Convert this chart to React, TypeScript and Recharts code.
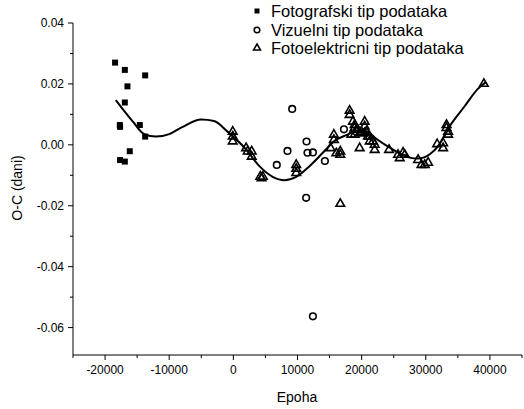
import { ComposedChart, XAxis, YAxis, Scatter, Line, Legend } from "recharts";

// Fotografski tip podataka (squares)
const fotoEpoha = [-18440, -16920, -13750, -16510, -16920, -17700, -17660, -14580, -13750, -16150, -17660, -16920];
const fotoOC = [0.027, 0.0246, 0.0228, 0.0192, 0.0139, 0.0065, 0.0059, 0.0065, 0.0027, -0.0021, -0.005, -0.0055];

// Vizuelni tip podataka (circles)
const vizEpoha = [9170, 11410, 8440, 11560, 12400, 6770, 14270, 17240, 11350, 12400];
const vizOC = [0.0118, 0.0011, -0.002, -0.0026, -0.0025, -0.0066, -0.0053, 0.0051, -0.0174, -0.0563];

// Fotoelektricni tip podataka (triangles)
const fotoelEpoha = [
  -100, -100, -100, 1980, 2240, 2860, 2860, 4200, 4400, 4600,
  9800, 9800, 9800, 15670, 15670, 15160, 16050, 16670, 16670, 16670,
  18125, 18125, 18640, 18910, 19170, 18390, 18910, 18910, 19420, 19690,
  20470, 20470, 19950, 20730, 20980, 20470, 19690, 21250, 21250, 21770,
  22030, 22030, 24270, 25670, 25940, 26460, 26720, 28800, 29330, 29840,
  30360, 31770, 32700, 32700, 33230, 33230, 33480, 33480, 39060,
];
const fotoelOC = [
  0.0045, 0.0029, 0.0013, -0.0009, -0.002, -0.002, -0.0037, -0.0103, -0.0108, -0.0103,
  -0.0064, -0.0077, -0.0091, 0.0035, 0.0018, -0.0009, -0.0026, -0.002, -0.0031, -0.0192,
  0.0114, 0.01, 0.0078, 0.0067, 0.0051, 0.0035, 0.0035, 0.0057, 0.0051, 0.004,
  0.0078, 0.0062, 0.0045, 0.0045, 0.0029, 0.004, -0.0009, 0.0029, 0.0013, 0.0013,
  0.0002, -0.0015, -0.0015, -0.0031, -0.0042, -0.0024, -0.0031, -0.0048, -0.0064, -0.0064,
  -0.0057, 0.0004, 0.0007, -0.0009, 0.0067, 0.0057, 0.0045, 0.0035, 0.0202,
];

// fitted curve
const fitEpoha = [
  -18330, -15730, -13900, -12080, -10000, -8000, -5000, -3000, -1000, 1980,
  4060, 6140, 7970, 9800, 11875, 13950, 15780, 17600, 19500, 21250,
  22030, 24375, 27500, 28800, 30625, 31920, 33750, 36000, 38080, 39375,
];
const fitOC = [
  0.0147, 0.0078, 0.0035, 0.0027, 0.0035, 0.0058, 0.0083, 0.0078, 0.0045, -0.0015,
  -0.007, -0.0105, -0.0116, -0.0105, -0.007, -0.0026, 0.0013, 0.0032, 0.0047, 0.0038,
  0.0024, -0.0009, -0.0042, -0.0045, -0.0031, -0.0004, 0.0062, 0.0125, 0.0183, 0.0206,
];

const xTicks = [-25000, -20000, -15000, -10000, -5000, 0, 5000, 10000, 15000, 20000, 25000, 30000, 35000, 40000, 45000];
const yTicks = [0.04, 0.03, 0.02, 0.01, 0, -0.01, -0.02, -0.03, -0.04, -0.05, -0.06];

const legendItems = ["Fotografski tip podataka", "Vizuelni tip podataka", "Fotoelektricni tip podataka"];

const pairs = (xs: number[], ys: number[]) => xs.map((x, i) => ({ x, y: ys[i] }));
const fotoData = pairs(fotoEpoha, fotoOC);
const vizData = pairs(vizEpoha, vizOC);
const fotoelData = pairs(fotoelEpoha, fotoelOC);
const fitData = pairs(fitEpoha, fitOC);

const Square = ({ cx, cy }: any) => <rect x={cx - 3} y={cy - 3} width={6} height={6} fill="#000" />;
const Ring = ({ cx, cy }: any) => <circle cx={cx} cy={cy} r={3.3} fill="none" stroke="#000" strokeWidth={1.6} />;
const Tri = ({ cx, cy }: any) => (
  <path d={`M${cx},${cy - 4.5} L${cx + 4.3},${cy + 3} L${cx - 4.3},${cy + 3} Z`} fill="none" stroke="#000" strokeWidth={1.6} />
);

const XTick = ({ x, y, payload }: any) => {
  const v = payload.value;
  const major = v % 10000 === 0;
  return (
    <g>
      <line x1={x} y1={y} x2={x} y2={y + (major ? 5 : 3)} stroke="#000" />
      {major && (
        <text x={x} y={y + 19} textAnchor="middle" fontSize={12} fill="#000">
          {v}
        </text>
      )}
    </g>
  );
};

const YTick = ({ x, y, payload }: any) => {
  const v = payload.value;
  const major = Math.round(v * 100) % 2 === 0;
  return (
    <g>
      <line x1={x} y1={y} x2={x - (major ? 5 : 3)} y2={y} stroke="#000" />
      {major && (
        <text x={x - 9} y={y + 4} textAnchor="end" fontSize={12} fill="#000">
          {v.toFixed(2)}
        </text>
      )}
    </g>
  );
};

const renderLegend = () => (
  <div style={{ fontSize: 16.5, lineHeight: "18.5px", color: "#000" }}>
    {legendItems.map((name, i) => (
      <div key={name} style={{ display: "flex", alignItems: "center" }}>
        <svg width={20} height={18}>
          {i === 0 && <rect x={3.5} y={6.5} width={5} height={5} fill="#000" />}
          {i === 1 && <circle cx={6} cy={9} r={2.8} fill="none" stroke="#000" strokeWidth={1.5} />}
          {i === 2 && <path d="M6,5 L9.5,11 L2.5,11 Z" fill="none" stroke="#000" strokeWidth={1.5} />}
        </svg>
        <span>{name}</span>
      </div>
    ))}
  </div>
);

export default function App() {
  return (
    <div style={{ position: "absolute", left: 0, top: 0, fontFamily: "Arial, 'Liberation Sans', sans-serif" }}>
      <ComposedChart width={524} height={409} margin={{ top: 23, right: 2, bottom: 0, left: 0 }}>
        <XAxis
          type="number"
          dataKey="x"
          domain={[-25000, 45000]}
          ticks={xTicks}
          interval={0}
          stroke="#000"
          tickLine={false}
          tickSize={0}
          tickMargin={0}
          tick={<XTick />}
          height={54}
          label={() => (
            <text x={297} y={402} textAnchor="middle" fontSize={14} fill="#000">
              Epoha
            </text>
          )}
        />
        <YAxis
          type="number"
          dataKey="y"
          domain={[-0.069, 0.04]}
          ticks={yTicks}
          interval={0}
          stroke="#000"
          tickLine={false}
          tickSize={0}
          tickMargin={0}
          tick={<YTick />}
          width={73}
          label={() => (
            <text x={22} y={188} textAnchor="middle" fontSize={14} fill="#000" transform="rotate(-90,22,188)">
              O-C (dani)
            </text>
          )}
        />
        <Legend
          layout="vertical"
          align="center"
          verticalAlign="middle"
          content={renderLegend}
          wrapperStyle={{ top: 2, left: 251, width: 270 }}
        />
        <Line data={fitData} dataKey="y" type="monotone" stroke="#000" strokeWidth={2} dot={false} isAnimationActive={false} />
        <Scatter data={fotoData} dataKey="y" shape={<Square />} isAnimationActive={false} />
        <Scatter data={vizData} dataKey="y" shape={<Ring />} isAnimationActive={false} />
        <Scatter data={fotoelData} dataKey="y" shape={<Tri />} isAnimationActive={false} />
      </ComposedChart>
    </div>
  );
}
